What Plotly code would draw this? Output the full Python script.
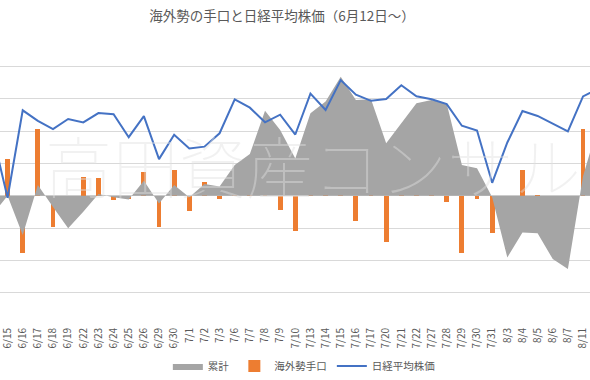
import plotly.graph_objects as go

categories = ["6/12", "6/15", "6/16", "6/17", "6/18", "6/19", "6/22", "6/23", "6/24", "6/25",
              "6/26", "6/29", "6/30", "7/1", "7/2", "7/3", "7/6", "7/7", "7/8", "7/9",
              "7/10", "7/13", "7/14", "7/15", "7/16", "7/17", "7/20", "7/21", "7/22", "7/27",
              "7/28", "7/29", "7/30", "7/31", "8/3", "8/4", "8/5", "8/6", "8/7", "8/11", "8/12"]

cumulative = [-0.6, 0.0, -1.22, 0.33, -0.35, -1.01, -0.5, 0.05, -0.05, -0.12,
              0.46, -0.24, 0.33, -0.05, 0.36, 0.28, 0.95, 1.29, 2.63, 2.03,
              1.15, 2.55, 2.91, 3.68, 2.96, 2.98, 1.62, 2.25, 2.86, 2.96,
              2.84, 0.95, 0.85, -0.05, -1.91, -1.14, -1.16, -1.96, -2.27, 0.6, 2.2]

foreign_flow = [None, 1.12, -1.76, 2.06, -0.96, -0.62, 0.57, 0.54, -0.13, -0.11,
                0.72, -0.96, 0.79, -0.46, 0.41, -0.10, 0.69, 0.33, 1.31, -0.44,
                -1.08, 1.39, 0.38, 0.74, -0.77, 0.07, -1.42, 0.76, 0.56, 0.08,
                -0.21, -1.78, -0.11, -1.14, -1.65, 0.79, -0.03, -0.78, -0.31, 2.05, None]

nikkei = [22305, 21530, 22582, 22455, 22355, 22478, 22437, 22549, 22534, 22259,
          22512, 21995, 22288, 22122, 22145, 22306, 22714, 22614, 22438, 22529,
          22291, 22784, 22587, 22945, 22770, 22696, 22717, 22884, 22751, 22715,
          22657, 22397, 22339, 21710, 22195, 22573, 22514, 22418, 22329, 22750, 22843]

font_family = "Noto Sans CJK JP, Noto Sans, sans-serif"
text_color = "#595959"

fig = go.Figure()
fig.add_trace(go.Scatter(
    x=categories, y=cumulative, name="累計", mode="lines",
    line=dict(width=0, color="#A5A5A5"), fill="tozeroy", fillcolor="#A5A5A5",
))
fig.add_trace(go.Bar(
    x=categories, y=foreign_flow, name="海外勢手口",
    marker=dict(color="#ED7D31", line=dict(width=0)), width=0.32,
))
fig.add_trace(go.Scatter(
    x=categories, y=nikkei, name="日経平均株価", mode="lines",
    line=dict(color="#4472C4", width=2), yaxis="y2",
))

fig.add_annotation(
    text="高田資産コンサル", xref="paper", yref="paper", x=0.53, y=0.555,
    xanchor="center", yanchor="middle", showarrow=False,
    font=dict(family="Noto Sans CJK JP", size=67, color="rgba(225,225,225,0.45)", weight=100),
)

fig.update_layout(
    width=590, height=380,
    margin=dict(l=0, r=0, t=34, b=55, autoexpand=False),
    paper_bgcolor="white", plot_bgcolor="white",
    font=dict(family=font_family, color=text_color),
    title=dict(text="海外勢の手口と日経平均株価（6月12日～）", x=0.478, xanchor="center",
               y=1 - 16 / 380, yanchor="middle", font=dict(size=13.5, color=text_color)),
    showlegend=True,
    legend=dict(orientation="h", x=0.515, xanchor="center", y=-0.141, yanchor="middle",
                font=dict(size=10.5, color=text_color), traceorder="normal",
                bgcolor="rgba(0,0,0,0)", itemwidth=30),
    bargap=0,
    xaxis=dict(type="category", range=[0.5, 39.46], tickangle=-90, showgrid=False, automargin=False,
               ticks="", tickfont=dict(size=10, color=text_color), showline=False, zeroline=False),
    yaxis=dict(range=[-4, 5], dtick=1, showgrid=True, gridcolor="#D9D9D9", gridwidth=1, automargin=False,
               zeroline=True, zerolinecolor="#D9D9D9", zerolinewidth=1, showticklabels=False, ticks=""),
    yaxis2=dict(range=[20000, 23500], overlaying="y", side="right", showgrid=False, automargin=False,
                showticklabels=False, zeroline=False, ticks=""),
)

fig.write_html("out.html", config={"displayModeBar": False},
               post_script="document.body.style.margin='0';document.body.style.overflow='hidden';")
